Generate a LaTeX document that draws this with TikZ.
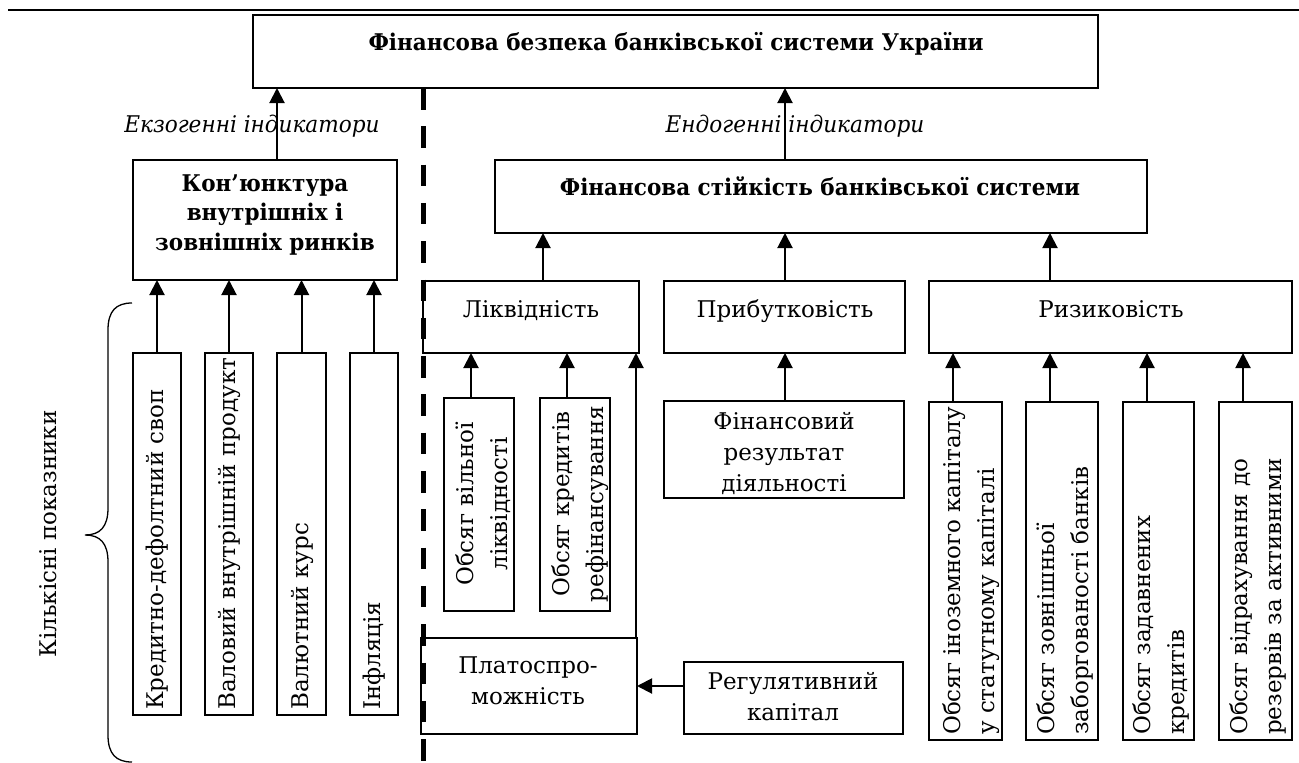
\documentclass[tikz,border=0pt]{standalone}
\usepackage{fontspec}
\setmainfont{DejaVu Serif}[BoldFeatures={FakeStretch=0.935},ItalicFeatures={FakeStretch=0.94}]
\usetikzlibrary{arrows.meta}
\newcommand\fsn{\fontsize{23pt}{30pt}\selectfont}
\newcommand\fsr{\fontsize{23pt}{34pt}\selectfont}
\newcommand\bx[5]{\node[box, anchor=north west, minimum width={#4-#2}, minimum height={#5-#3}] (#1) at (#2,#3) {};}
\tikzset{
  box/.style={draw, line width=2pt, inner sep=0pt, outer sep=0pt},
  arr/.style={line width=2pt, -{Triangle[length=15pt,width=15pt]}},
  lbl/.style={inner sep=0pt, font=\fsn, align=center, anchor=base},
  rlbl/.style={inner sep=0pt, font=\fsr, rotate=90},
}
\begin{document}
\begin{tikzpicture}[x=1pt,y=-1pt]
\useasboundingbox (0,0) rectangle (1299,763);
% top rule
\draw[line width=2.8pt] (8,10) -- (1299,10);
% boxes
\bx{top}{253}{15}{1098}{88}
\bx{kon}{133}{160}{397}{280}
\bx{fst}{495}{160}{1147}{233}
\bx{liq}{423}{281}{639}{353}
\bx{prib}{664}{281}{905}{353}
\bx{risk}{929}{281}{1292}{353}
\bx{e1}{133}{353}{181}{715}
\bx{e2}{205}{353}{253}{715}
\bx{e3}{277}{353}{326}{715}
\bx{e4}{350}{353}{398}{715}
\bx{l1}{444}{398}{514}{611}
\bx{l2}{540}{398}{610}{611}
\bx{fres}{664}{401}{904}{498}
\bx{plat}{421}{638}{637}{734}
\bx{reg}{684}{662}{903}{734}
\bx{r1}{929}{402}{1002}{740}
\bx{r2}{1026}{402}{1098}{740}
\bx{r3}{1123}{402}{1194}{740}
\bx{r4}{1219}{402}{1292}{740}
% texts
\node[lbl, font=\fsn\bfseries] (tTop) at (676,50) {Фінансова безпека банківської системи України};
\node[lbl, font=\fsn\itshape] (exo) at (252,132) {Екзогенні індикатори};
\node[lbl, font=\fsn\itshape] (endo) at (795,132) {Ендогенні індикатори};
\node[lbl, font=\fontsize{23pt}{29.5pt}\selectfont\bfseries] (tKon) at (265,250) {Кон’юнктура\\внутрішніх і\\зовнішніх ринків};
\node[lbl, font=\fsn\bfseries] (tFst) at (820,195) {Фінансова стійкість банківської системи};
\node[lbl] (tLiq) at (531,317) {Ліквідність};
\node[lbl] (tPrib) at (785,317) {Прибутковість};
\node[lbl] (tRisk) at (1111,317) {Ризиковість};
\node[lbl, font=\fontsize{23pt}{31pt}\selectfont] (tFres) at (784,491) {Фінансовий\\результат\\діяльності};
\node[lbl, font=\fontsize{23pt}{31pt}\selectfont] (tPlat) at (528,704) {Платоспро-\\можність};
\node[lbl, font=\fontsize{23pt}{31pt}\selectfont] (tReg) at (793,720) {Регулятивний\\капітал};
\node[rlbl, anchor=west] (tE1) at (157,710) {Кредитно-дефолтний своп};
\node[rlbl, anchor=west] (tE2) at (229,710) {Валовий внутрішній продукт};
\node[rlbl, anchor=west] (tE3) at (302,710) {Валютний курс};
\node[rlbl, anchor=west] (tE4) at (374,710) {Інфляція};
\node[rlbl, align=center] (tL1) at (483,504) {Обсяг вільної\\ліквідності};
\node[rlbl, align=center] (tL2) at (580,504) {Обсяг кредитів\\рефінансування};
\node[rlbl, anchor=west, align=left] (tR1) at (971,735) {Обсяг іноземного капіталу\\у статутному капіталі};
\node[rlbl, anchor=west, align=left] (tR2) at (1065,735) {Обсяг зовнішньої\\заборгованості банків};
\node[rlbl, anchor=west, align=left] (tR3) at (1161,735) {Обсяг задавнених\\кредитів};
\node[rlbl, anchor=west, align=left] (tR4) at (1258,735) {Обсяг відрахування до\\резервів за активними};
\node[rlbl] (tKil) at (48,534) {Кількісні показники};
% dashed divider
\draw[line width=5pt, dash pattern=on 21.5pt off 16.8pt] (top.south -| 423,0) -- (423,763);
% arrows
\draw[arr] (kon.north -| 277,0) -- (top.south -| 277,0);
\draw[arr] (fst.north -| 785,0) -- (top.south -| 785,0);
\draw[arr] (liq.north -| 543,0) -- (fst.south -| 543,0);
\draw[arr] (prib.north -| 785,0) -- (fst.south -| 785,0);
\draw[arr] (risk.north -| 1050,0) -- (fst.south -| 1050,0);
\foreach \n in {e1,e2,e3,e4} \draw[arr] (\n.north) -- (kon.south -| \n.north);
\draw[arr] (l1.north -| 471,0) -- (liq.south -| 471,0);
\draw[arr] (l2.north -| 567,0) -- (liq.south -| 567,0);
\draw[arr] (fres.north -| 785,0) -- (prib.south -| 785,0);
\draw[arr] (plat.north -| 636,0) -- (liq.south -| 636,0);
\draw[arr] (reg.west |- 0,686) -- (plat.east |- 0,686);
\draw[arr] (r1.north -| 953,0) -- (risk.south -| 953,0);
\draw[arr] (r2.north -| 1050,0) -- (risk.south -| 1050,0);
\draw[arr] (r3.north -| 1147,0) -- (risk.south -| 1147,0);
\draw[arr] (r4.north -| 1243,0) -- (risk.south -| 1243,0);
% brace
\draw[line width=1.3pt] (132,303) .. controls (116,303) and (108,311) .. (108,330) -- (108,508) .. controls (108,527) and (100,535) .. (85,535) .. controls (100,535) and (108,543) .. (108,562) -- (108,735) .. controls (108,754) and (116,762) .. (132,762);
\end{tikzpicture}
\end{document}
